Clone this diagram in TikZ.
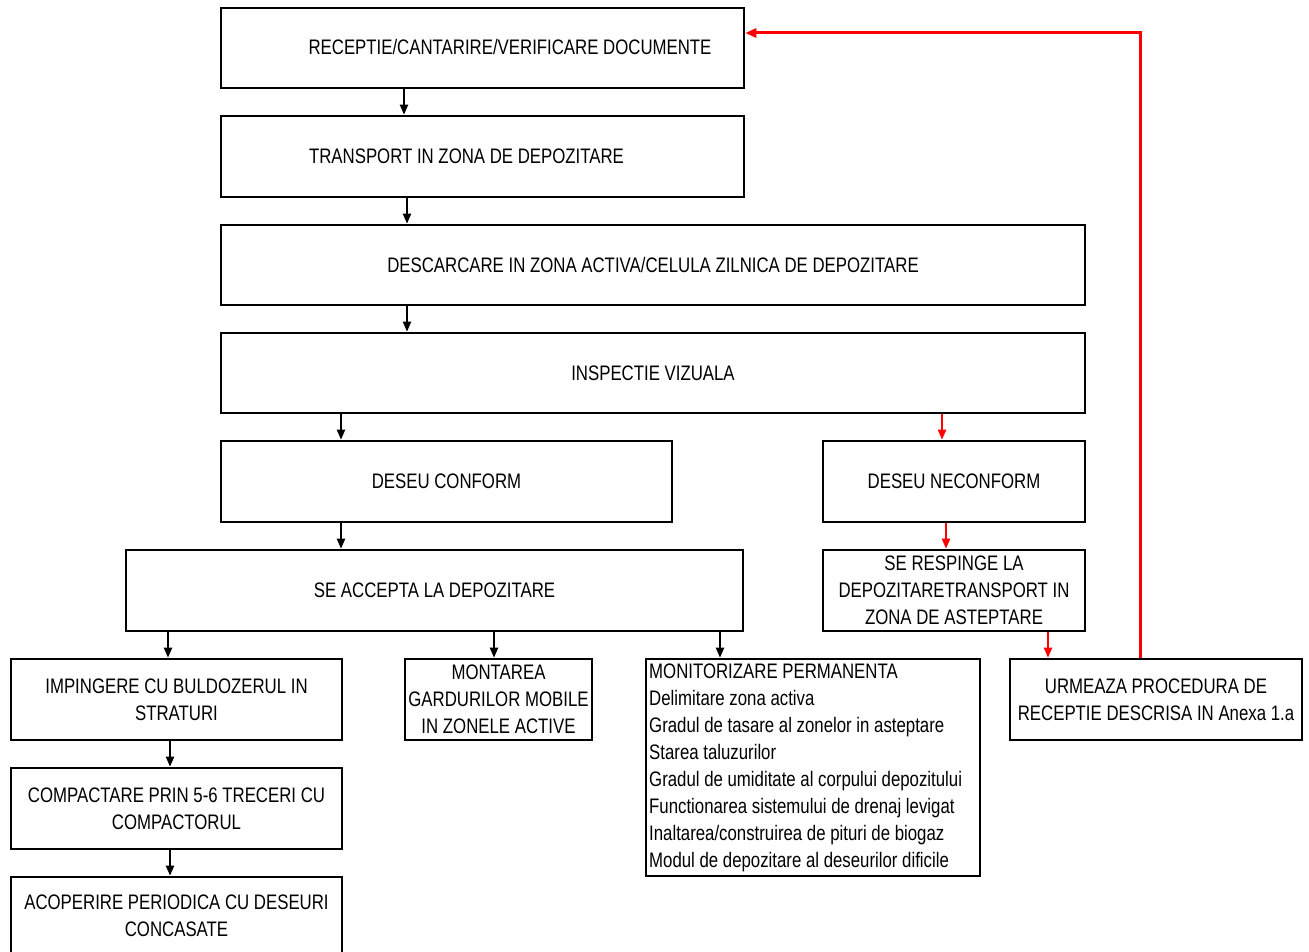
\documentclass[tikz,border=0pt]{standalone}
\usepackage{fontspec}
\setmainfont{Liberation Sans}[FakeStretch=0.8]
\usetikzlibrary{arrows.meta}
\begin{document}
\begin{tikzpicture}[x=1pt,y=-1pt,
  box/.style={draw, line width=2.6pt, inner sep=0pt, align=center, font=\fontsize{21}{27}\selectfont},
  txt/.style={inner sep=0pt, font=\fontsize{21}{27}\selectfont},
  arr/.style={-{Triangle[length=10pt,width=8pt]}, line width=2pt},
  rarr/.style={arr, red},
  rline/.style={red, line width=3pt, -{Triangle[length=11pt,width=9pt]}}]
\useasboundingbox (0,0) rectangle (1309,952);
\node[box, minimum width=523pt, minimum height=80pt] (recv) at (482.5,48) {};
\node[txt] (recvt) at (510,47) {RECEPTIE/CANTARIRE/VERIFICARE DOCUMENTE};
\node[box, minimum width=523pt, minimum height=81pt] (trans) at (482.5,156.5) {};
\node[txt] (transt) at (466.5,156) {TRANSPORT IN ZONA DE DEPOZITARE};
\node[box, minimum width=864pt, minimum height=80pt] (desc) at (653,265) {DESCARCARE IN ZONA ACTIVA/CELULA ZILNICA DE DEPOZITARE};
\node[box, minimum width=864pt, minimum height=80pt] (insp) at (653,373) {INSPECTIE VIZUALA};
\node[box, minimum width=451pt, minimum height=81pt] (conf) at (446.5,481.5) {DESEU CONFORM};
\node[box, minimum width=262pt, minimum height=81pt] (nconf) at (954,481.5) {DESEU NECONFORM};
\node[box, minimum width=617pt, minimum height=81pt] (acc) at (434.5,590.5) {SE ACCEPTA LA DEPOZITARE};
\node[box, minimum width=262pt, minimum height=81pt] (resp) at (954,590.5) {SE RESPINGE LA\\DEPOZITARETRANSPORT IN\\ZONA DE ASTEPTARE};
\node[box, minimum width=331pt, minimum height=81pt] (imp) at (176.5,699.5) {IMPINGERE CU BULDOZERUL IN\\STRATURI};
\node[box, minimum width=187pt, minimum height=81pt] (mont) at (498.5,699.5) {MONTAREA\\GARDURILOR MOBILE\\IN ZONELE ACTIVE};
\node[box, minimum width=334pt, minimum height=217pt] (moni) at (813,767.5) {};
\node[txt, align=left, anchor=west] (monit) at (649,768) {MONITORIZARE PERMANENTA\\Delimitare zona activa\\Gradul de tasare al zonelor in asteptare\\Starea taluzurilor\\Gradul de umiditate al corpului depozitului\\Functionarea sistemului de drenaj levigat\\Inaltarea/construirea de pituri de biogaz\\Modul de depozitare al deseurilor dificile};
\node[box, minimum width=292pt, minimum height=81pt] (urm) at (1156,699.5) {URMEAZA PROCEDURA DE\\RECEPTIE DESCRISA IN Anexa 1.a};
\node[box, minimum width=331pt, minimum height=81pt] (comp) at (176.5,808.5) {COMPACTARE PRIN 5-6 TRECERI CU\\COMPACTORUL};
\node[box, minimum width=331pt, minimum height=94pt] (acop) at (176.5,924) {};
\node[txt, align=center] (acopt) at (176.5,916) {ACOPERIRE PERIODICA CU DESEURI\\CONCASATE};
% connectors
\draw[arr] ([xshift=-78.5pt]recv.south) -- ([xshift=-78.5pt]trans.north);
\draw[arr] ([xshift=-75.5pt]trans.south) -- ([xshift=-246pt]desc.north);
\draw[arr] ([xshift=-246pt]desc.south) -- ([xshift=-246pt]insp.north);
\draw[arr] ([xshift=-312pt]insp.south) -- ([xshift=-105.5pt]conf.north);
\draw[rarr] ([xshift=289pt]insp.south) -- ([xshift=-12pt]nconf.north);
\draw[arr] ([xshift=-105.5pt]conf.south) -- ([xshift=-93.5pt]acc.north);
\draw[rarr] ([xshift=-8pt]nconf.south) -- ([xshift=-8pt]resp.north);
\draw[arr] ([xshift=-266.5pt]acc.south) -- ([xshift=-8.5pt]imp.north);
\draw[arr] ([xshift=59.5pt]acc.south) -- ([xshift=-4.5pt]mont.north);
\draw[arr] ([xshift=285.5pt]acc.south) -- ([xshift=-93pt]moni.north);
\draw[rarr] ([xshift=94pt]resp.south) -- ([xshift=-108pt]urm.north);
\draw[arr] ([xshift=-6.5pt]imp.south) -- ([xshift=-6.5pt]comp.north);
\draw[arr] ([xshift=-6.5pt]comp.south) -- ([xshift=-6.5pt]acop.north);
\draw[rline] ([xshift=-16pt]urm.north) |- ([yshift=15pt]recv.east);
\end{tikzpicture}
\end{document}
